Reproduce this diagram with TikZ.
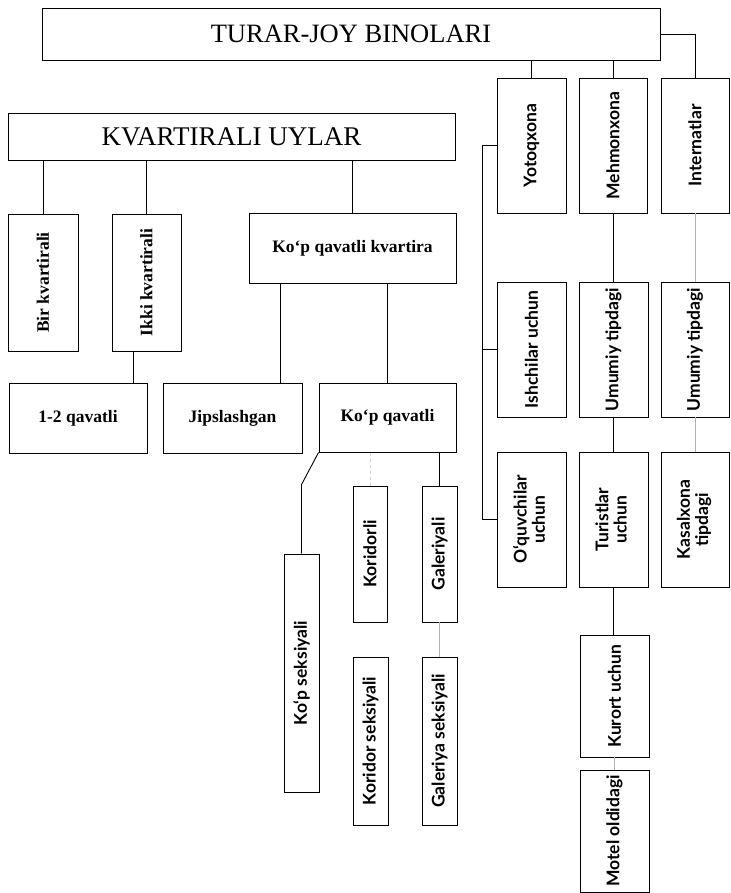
\documentclass[tikz,border=0pt]{standalone}
\usepackage{fontspec}
\setmainfont{Liberation Serif}
\newfontfamily\sansf{Lato}
\usepackage{tikz}
\usetikzlibrary{calc}

\tikzset{
    box/.style={draw, line width=0.9pt, inner sep=0pt, align=center},
    serifbox/.style={box, font=\fontsize{17.5}{19}\selectfont\bfseries},
    sansbox/.style={box, font=\sansf\fontsize{17.5}{17}\selectfont\bfseries},
    link/.style={line width=0.9pt},
    faint/.style={line width=0.9pt, gray!60}
}

\begin{document}
\begin{tikzpicture}[x=1pt,y=-1pt]
\useasboundingbox (0,0) rectangle (730,893);

% Main boxes
\node[box, minimum width=618, minimum height=52, font=\fontsize{26.5}{30}\selectfont] (top) at (351,34) {TURAR-JOY BINOLARI};
\node[box, minimum width=447, minimum height=47, font=\fontsize{27}{30}\selectfont] (kvu) at (231.5,136.5) {KVARTIRALI UYLAR};

% Kvartirali uylar branch
\node[serifbox, minimum width=70, minimum height=137] (bir) at (43,282.5) {\rotatebox{90}{Bir kvartirali}};
\node[serifbox, minimum width=69, minimum height=137] (ikki) at (146.5,282.5) {\rotatebox{90}{Ikki kvartirali}};
\node[serifbox, minimum width=207, minimum height=70] (kqk) at (352.5,248) {Ko‘p qavatli kvartira};
\node[serifbox, minimum width=138, minimum height=70] (q12) at (78,418) {1-2 qavatli};
\node[serifbox, minimum width=139, minimum height=70] (jip) at (232.5,418) {Jipslashgan};
\node[serifbox, minimum width=137, minimum height=69] (kq) at (387.5,417.5) {Ko‘p qavatli};

% Ko'p qavatli types
\node[sansbox, minimum width=35, minimum height=238] (ksek) at (301.5,673) {\rotatebox{90}{Ko‘p seksiyali}};
\node[sansbox, minimum width=34, minimum height=136] (kor) at (370,554) {\rotatebox{90}{Koridorli}};
\node[sansbox, minimum width=35, minimum height=136] (gal) at (439.5,554) {\rotatebox{90}{Galeriyali}};
\node[sansbox, minimum width=35, minimum height=168] (korsek) at (370.5,741) {\rotatebox{90}{Koridor seksiyali}};
\node[sansbox, minimum width=35, minimum height=168] (galsek) at (439.5,741) {\rotatebox{90}{Galeriya seksiyali}};

% Right columns
\node[sansbox, minimum width=69, minimum height=135] (yot) at (531.5,145.5) {\rotatebox{90}{Yotoqxona}};
\node[sansbox, minimum width=68, minimum height=135] (meh) at (613,145.5) {\rotatebox{90}{Mehmonxona}};
\node[sansbox, minimum width=68, minimum height=135] (int) at (695,145.5) {\rotatebox{90}{Internatlar}};
\node[sansbox, minimum width=69, minimum height=135] (ish) at (531.5,349.5) {\rotatebox{90}{Ishchilar uchun}};
\node[sansbox, minimum width=69, minimum height=135] (umu1) at (613.5,349.5) {\rotatebox{90}{Umumiy tipdagi}};
\node[sansbox, minimum width=68, minimum height=135] (umu2) at (695,349.5) {\rotatebox{90}{Umumiy tipdagi}};
\node[sansbox, minimum width=69, minimum height=135] (oqu) at (531.5,519.5) {\rotatebox{90}{\begin{tabular}{@{}c@{}}O‘quvchilar\\uchun\end{tabular}}};
\node[sansbox, minimum width=69, minimum height=135] (tur) at (613.5,519.5) {\rotatebox{90}{\begin{tabular}{@{}c@{}}Turistlar\\uchun\end{tabular}}};
\node[sansbox, minimum width=68, minimum height=135] (kas) at (695,519.5) {\rotatebox{90}{\begin{tabular}{@{}c@{}}Kasalxona\\tipdagi\end{tabular}}};
\node[sansbox, minimum width=69, minimum height=122] (kur) at (614.5,696) {\rotatebox{90}{Kurort uchun}};
\node[sansbox, minimum width=69, minimum height=122] (mot) at (614.5,831) {\rotatebox{90}{Motel oldidagi}};

% Connectors from the top box
\draw[link] (top.east) -| (int.north);
\draw[link] (yot.north) -- (yot.north |- top.south);
\draw[link] (meh.north) -- (meh.north |- top.south);

% Connectors under kvartirali uylar
\draw[link] (bir.north) -- (bir.north |- kvu.south);
\draw[link] (ikki.north) -- (ikki.north |- kvu.south);
\draw[link] (kqk.north) -- (kqk.north |- kvu.south);
\draw[link] ($(ikki.south)+(-13,0)$) coordinate (c1) -- (c1 |- q12.north);
\draw[link] ($(kqk.south west)+(32,0)$) coordinate (c2) -- (c2 |- jip.north);
\draw[link] (kq.north) -- (kq.north |- kqk.south);
\draw[link] (kq.south west) -- ($(ksek.north)+(0,-69)$) -- (ksek.north);
\draw[faint, gray!35, dashed] (kor.north) -- (kor.north |- kq.south);
\draw[link] (gal.north) -- (gal.north |- kq.south);
\draw[faint] (gal.south) -- (galsek.north);

% Yotoqxona bracket
\draw[link] (yot.west) -- ++(-14,0) coordinate (b1) -- (b1 |- oqu.west) -- (oqu.west);
\draw[link] (b1 |- ish.west) -- (ish.west);

% Mehmonxona and internatlar columns
\draw[link] (meh.south) -- (meh.south |- umu1.north);
\draw[faint] (int.south) -- (umu2.north);
\draw[link] (umu1.south) -- (tur.north);
\draw[faint] (umu2.south) -- (kas.north);
\draw[link] (tur.south) -- (tur.south |- kur.north);
\draw[faint] (kur.south) -- (mot.north);

\end{tikzpicture}
\end{document}
